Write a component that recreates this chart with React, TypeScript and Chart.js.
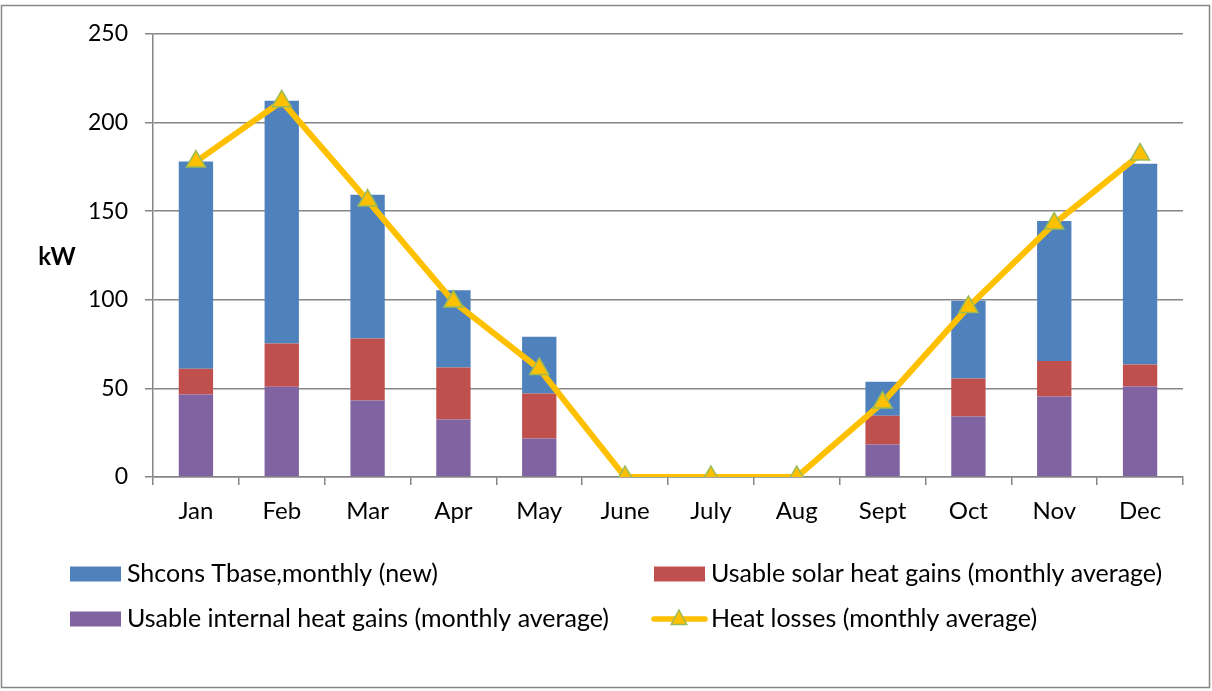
import React, { useEffect, useRef } from "react";
import { Chart, registerables } from "chart.js";

Chart.register(...registerables);

const months = ["Jan", "Feb", "Mar", "Apr", "May", "June", "July", "Aug", "Sept", "Oct", "Nov", "Dec"];
const internalGains = [46.6, 50.9, 43.2, 32.4, 21.7, 0, 0, 0, 18.3, 34.1, 45.4, 51.1];
const solarGains = [14.5, 24.5, 35.0, 29.4, 25.4, 0, 0, 0, 16.2, 21.5, 20.0, 12.4];
const shcons = [116.9, 136.9, 81.1, 43.6, 32.1, 0, 0, 0, 19.2, 43.8, 79.0, 113.3];
const heatLosses = [178, 212, 156, 99, 61, 0, 0, 0, 42, 96, 143, 182];
const yTicks = [0, 50, 100, 150, 200, 250];

const FONT = "Lato, 'Open Sans', sans-serif";
const GRID = "#868686";
const BLUE = "#4F81BD";
const RED = "#C0504D";
const PURPLE = "#8064A2";
const GOLD = "#FFC000";
const GREEN = "#9BBB59";

const frame = {
  id: "frame",
  beforeDraw(chart: any) {
    const ctx = chart.ctx;
    ctx.save();
    ctx.fillStyle = "#ffffff";
    ctx.fillRect(0, 0, chart.width, chart.height);
    ctx.strokeStyle = GRID;
    ctx.lineWidth = 1.5;
    ctx.strokeRect(1.5, 5.5, 1208, 682);
    ctx.restore();
  },
  afterDraw(chart: any) {
    const ctx = chart.ctx;
    ctx.save();
    // axis title
    ctx.fillStyle = "#000";
    ctx.font = `bold 24px ${FONT}`;
    ctx.textAlign = "center";
    ctx.textBaseline = "middle";
    ctx.fillText("kW", 57, 257);

    const ds = chart.data.datasets;
    const items = [
      { d: ds[3], x: 70, y: 574 },
      { d: ds[2], x: 654, y: 574 },
      { d: ds[1], x: 70, y: 619 },
      { d: ds[0], x: 652, y: 619 },
    ];
    ctx.font = `25px ${FONT}`;
    ctx.textAlign = "left";
    for (const it of items) {
      const d: any = it.d;
      if (d.type === "line") {
        ctx.strokeStyle = GOLD;
        ctx.lineWidth = 5.5;
        ctx.lineCap = "round";
        ctx.beginPath();
        ctx.moveTo(it.x + 2, it.y);
        ctx.lineTo(it.x + 53, it.y);
        ctx.stroke();
        const cx = it.x + 27;
        const r = 9;
        ctx.beginPath();
        ctx.moveTo(cx, it.y - r);
        ctx.lineTo(cx + r * 0.866, it.y + r * 0.5 + 1);
        ctx.lineTo(cx - r * 0.866, it.y + r * 0.5 + 1);
        ctx.closePath();
        ctx.fillStyle = GOLD;
        ctx.fill();
        ctx.strokeStyle = GREEN;
        ctx.lineWidth = 1.5;
        ctx.stroke();
        ctx.fillStyle = "#000";
        ctx.fillText(d.label, it.x + 59, it.y);
      } else {
        ctx.fillStyle = d.backgroundColor;
        ctx.fillRect(it.x, it.y - 7.5, 51, 15);
        ctx.fillStyle = "#000";
        ctx.fillText(d.label, it.x + 57, it.y);
      }
    }
    ctx.restore();
  },
};

export default function App() {
  const ref = useRef<HTMLCanvasElement>(null);
  useEffect(() => {
    if (!ref.current) return;
    const chart = new Chart(ref.current, {
      type: "bar",
      data: {
        labels: months,
        datasets: [
          {
            type: "line",
            label: "Heat losses (monthly average)",
            data: heatLosses,
            borderColor: GOLD,
            backgroundColor: GOLD,
            borderWidth: 6,
            pointStyle: "triangle",
            pointRadius: 11,
            pointBackgroundColor: GOLD,
            pointBorderColor: GREEN,
            pointBorderWidth: 1.5,
            tension: 0,
            stack: "line",
            order: 0,
          } as any,
          {
            type: "bar",
            label: "Usable internal heat gains (monthly average)",
            data: internalGains,
            backgroundColor: PURPLE,
            stack: "bars",
            order: 1,
          },
          {
            type: "bar",
            label: "Usable solar heat gains (monthly average)",
            data: solarGains,
            backgroundColor: RED,
            stack: "bars",
            order: 1,
          },
          {
            type: "bar",
            label: "Shcons Tbase,monthly (new)",
            data: shcons,
            backgroundColor: BLUE,
            stack: "bars",
            order: 1,
          },
        ],
      },
      options: {
        responsive: false,
        animation: false,
        events: [],
        layout: { padding: { left: 0, top: 34, right: 29, bottom: 154 } },
        datasets: { bar: { barPercentage: 0.4, categoryPercentage: 1.0, borderWidth: 0 } },
        plugins: { legend: { display: false }, tooltip: { enabled: false } },
        scales: {
          x: {
            stacked: true,
            grid: { drawOnChartArea: false, offset: true, tickLength: 8, color: GRID, lineWidth: 1.5 },
            border: { color: GRID, width: 1.5 },
            ticks: { color: "#000", font: { family: FONT, size: 24 }, padding: 12, maxRotation: 0 },
            afterFit: (s: any) => { s.height = 60; },
          },
          y: {
            stacked: true,
            min: 0,
            max: 250,
            afterBuildTicks: (s: any) => { s.ticks = yTicks.map((v) => ({ value: v })); },
            grid: { color: GRID, lineWidth: 1.5, tickLength: 8 },
            border: { color: GRID, width: 1.5 },
            ticks: { color: "#000", font: { family: FONT, size: 23 }, padding: 17 },
            afterFit: (s: any) => { s.width = 153; },
          },
        },
      },
      plugins: [frame],
    });
    return () => chart.destroy();
  }, []);
  return (
    <div style={{ position: "absolute", left: 0, top: 0, width: 1212, height: 691 }}>
      <canvas ref={ref} width={1212} height={691} />
    </div>
  );
}
